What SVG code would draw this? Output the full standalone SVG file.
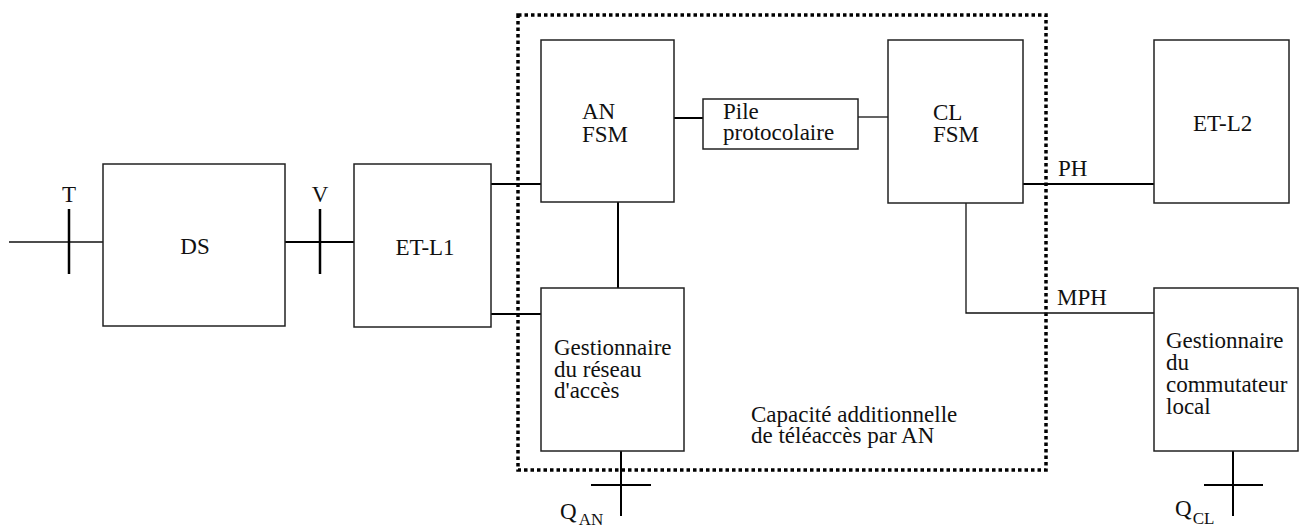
<svg xmlns="http://www.w3.org/2000/svg" width="1300" height="528" viewBox="0 0 1300 528">
  <style>
    .box { fill: #fff; stroke: #222; stroke-width: 1.5; }
    .ln { fill: none; stroke: #000; stroke-width: 2; }
    .thin { fill: none; stroke: #111; stroke-width: 1.3; }
    .tick { fill: none; stroke: #000; stroke-width: 2.5; }
    .frame { fill: none; stroke: #000; stroke-width: 3.5; stroke-dasharray: 3.5 3; }
    text { font-family: "Liberation Serif", "Times New Roman", serif; font-size: 23px; fill: #111; }
    .mid { text-anchor: middle; }
    .sub { font-size: 17px; }
  </style>
  <rect width="1300" height="528" fill="#fff"/>

  <!-- additional remote-access capability boundary -->
  <g id="boundary">
    <rect class="frame" x="518" y="15" width="528" height="455"/>
    <text x="751" y="422">Capacité additionnelle</text>
    <text x="751" y="443">de téléaccès par AN</text>
  </g>

  <g id="connectors">
    <line class="thin" x1="9" y1="242" x2="103" y2="242"/>
    <line class="tick" x1="69" y1="209" x2="69" y2="274"/>
    <line class="ln" x1="285" y1="242" x2="354" y2="242"/>
    <line class="tick" x1="320" y1="209" x2="320" y2="274"/>
    <line class="ln" x1="491" y1="184" x2="541" y2="184"/>
    <line class="ln" x1="491" y1="314" x2="541" y2="314"/>
    <line class="ln" x1="618" y1="202" x2="618" y2="288"/>
    <line class="ln" x1="674" y1="118" x2="703" y2="118"/>
    <line class="thin" x1="858" y1="117" x2="888" y2="117"/>
    <line class="ln" x1="1023" y1="184" x2="1154" y2="184"/>
    <polyline class="thin" points="966,203 966,313 1154,313"/>
    <line class="ln" x1="621" y1="451" x2="621" y2="516"/>
    <line class="ln" x1="591" y1="485" x2="651" y2="485"/>
    <line class="ln" x1="1233" y1="451" x2="1233" y2="516"/>
    <line class="ln" x1="1204" y1="485" x2="1263" y2="485"/>
  </g>

  <g id="labels">
    <text class="mid" x="69" y="202">T</text>
    <text class="mid" x="320" y="202">V</text>
    <text x="1058" y="176">PH</text>
    <text x="1057" y="305">MPH</text>
    <text x="560" y="519">Q<tspan class="sub" dx="2" dy="6">AN</tspan></text>
    <text x="1175" y="516">Q<tspan class="sub" dx="1" dy="8">CL</tspan></text>
  </g>

  <g id="ds">
    <rect class="box" x="103" y="164" width="182" height="162"/>
    <text class="mid" x="195" y="254">DS</text>
  </g>
  <g id="et-l1">
    <rect class="box" x="354" y="164" width="137" height="163"/>
    <text class="mid" x="425" y="255">ET-L1</text>
  </g>
  <g id="an-fsm">
    <rect class="box" x="541" y="40" width="133" height="162"/>
    <text x="582" y="119">AN</text>
    <text x="582" y="142">FSM</text>
  </g>
  <g id="pile">
    <rect class="box" x="703" y="99" width="155" height="50"/>
    <text x="723" y="119">Pile</text>
    <text x="723" y="140">protocolaire</text>
  </g>
  <g id="cl-fsm">
    <rect class="box" x="888" y="40" width="135" height="163"/>
    <text x="933" y="120">CL</text>
    <text x="933" y="142">FSM</text>
  </g>
  <g id="et-l2">
    <rect class="box" x="1154" y="40" width="135" height="163"/>
    <text x="1193" y="131">ET-L2</text>
  </g>
  <g id="gest-an">
    <rect class="box" x="541" y="288" width="143" height="163"/>
    <text x="554" y="355">Gestionnaire</text>
    <text x="554" y="377">du réseau</text>
    <text x="554" y="398">d'accès</text>
  </g>
  <g id="gest-cl">
    <rect class="box" x="1154" y="288" width="144" height="163"/>
    <text x="1166" y="348">Gestionnaire</text>
    <text x="1166" y="370">du</text>
    <text x="1166" y="392">commutateur</text>
    <text x="1166" y="414">local</text>
  </g>
</svg>
